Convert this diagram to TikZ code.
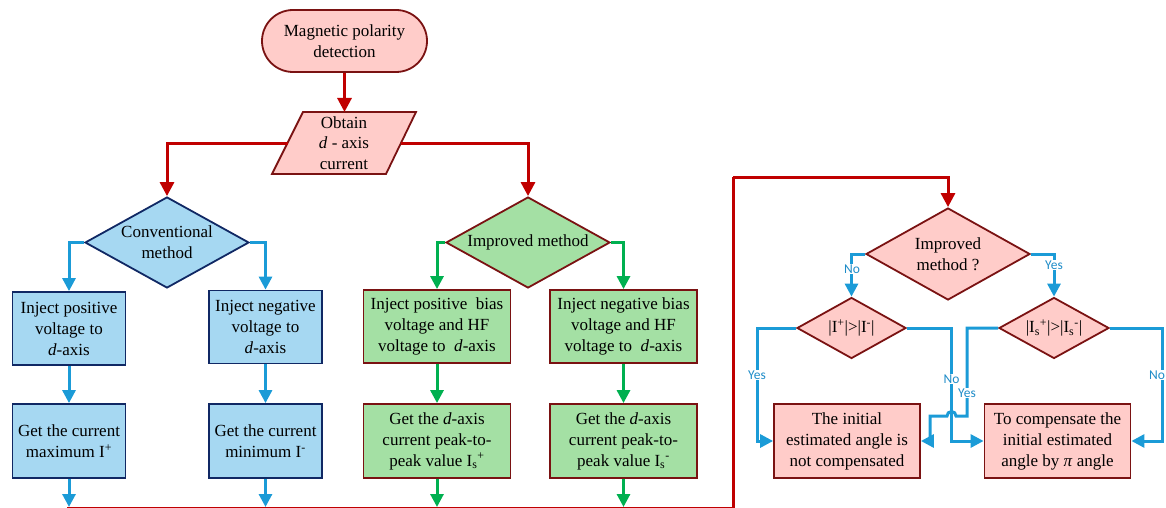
\documentclass[tikz,border=0pt]{standalone}
\usepackage{fontspec}
\setmainfont{Liberation Serif}
\newfontfamily\lblfont{Carlito}
\usetikzlibrary{shapes.geometric,arrows.meta}
\definecolor{pinkfill}{RGB}{255,204,201}
\definecolor{dred}{RGB}{122,18,18}
\definecolor{redline}{RGB}{192,0,0}
\definecolor{bluefill}{RGB}{166,216,242}
\definecolor{navy}{RGB}{16,40,100}
\definecolor{blueline}{RGB}{27,155,215}
\definecolor{greenfill}{RGB}{164,224,164}
\definecolor{greenline}{RGB}{0,176,80}
\definecolor{lblblue}{RGB}{30,140,200}
\tikzset{
  txt/.style={align=center,font=\fontsize{17}{21}\selectfont,inner sep=0pt},
  pinkbox/.style={txt,draw=dred,fill=pinkfill,line width=1.8pt,rectangle},
  bluebox/.style={txt,draw=navy,fill=bluefill,line width=1.8pt,rectangle},
  greenbox/.style={txt,draw=dred,fill=greenfill,line width=1.8pt,rectangle},
  dia/.style={txt,diamond,line width=1.8pt},
  redarrow/.style={draw=redline,line width=3pt,-{Triangle[length=14pt,width=14pt]}},
  bluearrow/.style={draw=blueline,line width=3pt,-{Triangle[length=13pt,width=13pt]}},
  greenarrow/.style={draw=greenline,line width=3pt,-{Triangle[length=13pt,width=13pt]}},
  lbl/.style={font=\lblfont\fontsize{13.5}{13.5}\selectfont,text=lblblue,fill=white,inner sep=1pt},
}
\begin{document}
\begin{tikzpicture}[x=1pt,y=-1pt]
\useasboundingbox (0,0) rectangle (1166,508);
% top
\node[pinkbox,rounded corners=31pt,minimum width=165pt,minimum height=62pt] (start) at (344.5,41) {Magnetic polarity\\detection};
\draw[pinkbox,draw=dred,fill=pinkfill] (303,112) -- (416,112) -- (386,174) -- (272,174) -- cycle;
\node[txt,font=\fontsize{17}{20.5}\selectfont] (obtain) at (344,143) {Obtain\\\textit{d} - axis\\current};
\coordinate (obtL) at (287.5,143);
\coordinate (obtR) at (401,143);
\coordinate (obtT) at (344.5,112);
\draw[redarrow] (start.south) -- (obtT);
% diamonds
\node[dia,draw=navy,fill=bluefill,aspect=1.82,minimum width=164pt,minimum height=91pt] (conv) at (167,242.5) {Conventional\\method};
\node[dia,draw=dred,fill=greenfill,aspect=1.82,minimum width=164pt,minimum height=91pt] (impr) at (528,242.5) {Improved method};
\draw[redarrow] (obtL) -| (conv.north);
\draw[redarrow] (obtR) -| (impr.north);
% blue boxes
\node[bluebox,minimum width=113pt,minimum height=73pt] (b1) at (69,328.5) {Inject positive\\voltage to\\\textit{d}-axis};
\node[bluebox,minimum width=113pt,minimum height=73pt] (b2) at (265.5,327) {Inject negative\\voltage to\\\textit{d}-axis};
\node[bluebox,minimum width=113pt,minimum height=74pt] (b3) at (69,441) {Get the current\\maximum I\textsuperscript{+}};
\node[bluebox,minimum width=113pt,minimum height=74pt] (b4) at (265.5,441) {Get the current\\minimum I\textsuperscript{-}};
\draw[bluearrow] (conv.west) -| (b1.north);
\draw[bluearrow] (conv.east) -| (b2.north);
\draw[bluearrow] (b1) -- (b3);
\draw[bluearrow] (b2) -- (b4);
% green boxes
\node[greenbox,minimum width=147pt,minimum height=73pt] (g1) at (437,326.5) {Inject positive~ bias\\voltage and HF\\voltage to~ \textit{d}-axis};
\node[greenbox,minimum width=147pt,minimum height=73pt] (g2) at (623.5,326.5) {Inject negative bias\\voltage and HF\\voltage to~ \textit{d}-axis};
\node[greenbox,minimum width=147pt,minimum height=74pt] (g3) at (437,441) {Get the \textit{d}-axis\\current peak-to-\\peak value I\textsubscript{s}\textsuperscript{+}};
\node[greenbox,minimum width=147pt,minimum height=74pt] (g4) at (623.5,441) {Get the \textit{d}-axis\\current peak-to-\\peak value I\textsubscript{s}\textsuperscript{-}};
\draw[greenarrow] (impr.west) -| (g1.north);
\draw[greenarrow] (impr.east) -| (g2.north);
\draw[greenarrow] (g1) -- (g3);
\draw[greenarrow] (g2) -- (g4);
% bottom collector
\coordinate (c1) at (69,507);
\coordinate (c2) at (265.5,507);
\coordinate (c3) at (437,507);
\coordinate (c4) at (623.5,507);
\coordinate (cL) at (67,508);
\coordinate (cR) at (733,508);
\coordinate (cT) at (733,177);
\draw[draw=redline,line width=3pt] (cL) -- (cR) -- (cT);
\draw[bluearrow] (b3) -- (c1);
\draw[bluearrow] (b4) -- (c2);
\draw[greenarrow] (g3) -- (c3);
\draw[greenarrow] (g4) -- (c4);
% right part
\node[dia,draw=dred,fill=pinkfill,aspect=1.78,minimum width=164pt,minimum height=92pt] (q) at (948,254) {Improved\\method ?};
\draw[redarrow] (cT) -| (q.north);
\node[dia,draw=dred,fill=pinkfill,aspect=1.8,minimum width=109pt,minimum height=61pt] (d1) at (851.5,328) {|I\textsuperscript{+}|>|I\textsuperscript{-}|};
\node[dia,draw=dred,fill=pinkfill,aspect=1.8,minimum width=110pt,minimum height=61pt] (d2) at (1054,328) {|I\textsubscript{s}\textsuperscript{+}|>|I\textsubscript{s}\textsuperscript{-}|};
\node[pinkbox,minimum width=146pt,minimum height=74pt] (r1) at (847,441) {The initial\\estimated angle is\\not compensated};
\node[pinkbox,minimum width=146pt,minimum height=74pt] (r2) at (1057.5,441) {To compensate the\\initial estimated\\angle by \textit{π} angle};
\draw[bluearrow] (q.west) -| (d1.north);
\draw[bluearrow] (q.east) -| (d2.north);
\coordinate (y1) at (757,328);
\draw[bluearrow] (d1.west) -- (y1) |- (r1.west);
\coordinate (n1) at (951.5,328);
\draw[bluearrow] (d1.east) -- (n1) |- (r2.west);
\coordinate (y2a) at (967,328);
\coordinate (y2b) at (967,416);
\coordinate (h1) at (956,416);
\coordinate (y2c) at (930,416);
\draw[bluearrow] (d2.west) -- (y2a) -- (y2b) -- (h1) arc[start angle=0,end angle=180,radius=4.5pt] -- (y2c) |- (r1.east);
\coordinate (n2) at (1162,328);
\draw[bluearrow] (d2.east) -- (n2) |- (r2.east);
\node[lbl] (lno1) at (852,269) {No};
\node[lbl] (lyes1) at (1054,265) {Yes};
\node[lbl] (lyes2) at (757,375) {Yes};
\node[lbl] (lno2) at (951.5,379) {No};
\node[lbl] (lyes3) at (967,393) {Yes};
\node[lbl,inner sep=0.5pt] (lno3) at (1157,375) {No};
\end{tikzpicture}
\end{document}
